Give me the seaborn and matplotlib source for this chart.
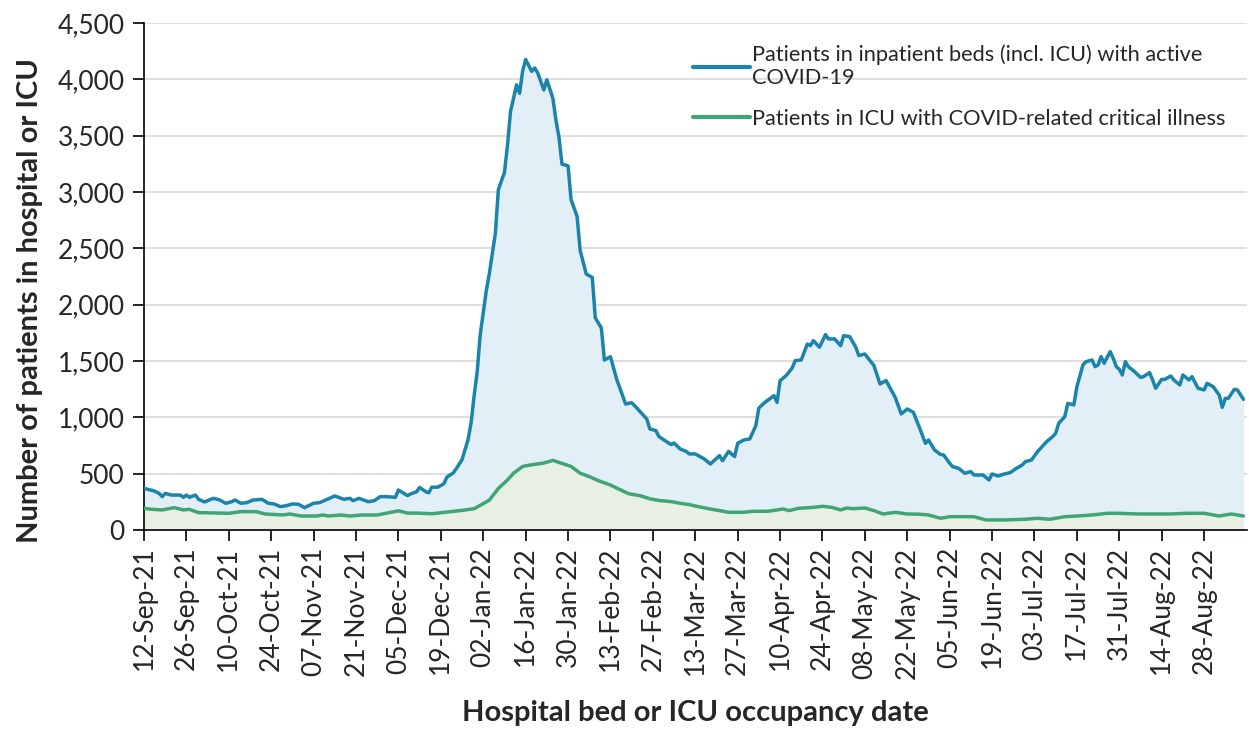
import pandas as pd
import matplotlib
matplotlib.use("Agg")
import matplotlib.pyplot as plt
import matplotlib.dates as mdates
from matplotlib.ticker import FuncFormatter
import seaborn as sns

# 数据：从图上读取（日期为距 2021-09-12 的天数）
start_date = "2021-09-12"
end_date = "2022-09-11"
last_tick = "2022-08-28"

inpatient_day = [
    0, 2, 3, 5, 6, 7, 9, 12, 13, 14, 15, 17, 18, 20, 22, 23, 25, 27, 29, 30,
    32, 34, 36, 39, 41, 43, 45, 47, 49, 51, 53, 56, 58, 60, 63, 66, 68, 69, 71, 74,
    76, 78, 80, 83, 84, 87, 88, 90, 91, 93, 94, 95, 97, 99, 100, 102, 103, 105, 107, 108,
    109, 110, 111, 113, 114, 116, 117, 119, 120, 121, 123, 124, 125, 126, 128, 129, 130, 132, 133, 135,
    136, 137, 138, 140, 141, 143, 144, 146, 148, 149, 151, 152, 154, 156, 158, 159, 161, 163, 165, 166,
    167, 169, 170, 172, 174, 175, 177, 179, 180, 182, 185, 187, 190, 191, 193, 195, 196, 198, 200, 202,
    203, 205, 208, 209, 210, 212, 214, 215, 217, 219, 220, 221, 223, 225, 226, 228, 230, 231, 233, 235,
    236, 238, 241, 243, 245, 248, 250, 252, 254, 256, 258, 259, 261, 263, 264, 266, 267, 269, 271, 273,
    274, 277, 279, 280, 282, 284, 286, 288, 289, 290, 291, 293, 295, 296, 298, 300, 301, 302, 304, 305,
    307, 308, 310, 311, 313, 314, 315, 316, 317, 319, 320, 321, 322, 323, 324, 325, 327, 329, 330, 332,
    333, 334, 336, 337, 339, 340, 342, 343, 345, 346, 348, 350, 351, 353, 355, 356, 357, 358, 360, 361,
    363,
]
inpatient_val = [
    370, 355, 350, 325, 296, 325, 310, 310, 290, 310, 290, 310, 272, 249, 272, 281, 266, 237, 251, 266,
    237, 243, 266, 272, 237, 231, 207, 216, 231, 228, 198, 237, 243, 266, 302, 272, 281, 260, 281, 251,
    260, 296, 296, 290, 355, 305, 320, 339, 378, 340, 330, 380, 380, 410, 470, 504, 540, 624, 803, 953,
    1193, 1403, 1733, 2123, 2273, 2633, 3023, 3173, 3413, 3713, 3951, 3876, 4071, 4176, 4071, 4101, 4056, 3906, 3996, 3831,
    3637, 3487, 3247, 3232, 2932, 2782, 2482, 2272, 2242, 1882, 1793, 1508, 1538, 1343, 1193, 1118, 1130, 1074, 1015, 985,
    897, 882, 829, 793, 758, 772, 719, 698, 675, 675, 630, 586, 660, 615, 698, 651, 769, 799, 808, 926,
    1083, 1133, 1192, 1133, 1326, 1370, 1438, 1503, 1509, 1651, 1636, 1681, 1622, 1734, 1696, 1696, 1636, 1725, 1716, 1622,
    1548, 1562, 1459, 1296, 1326, 1178, 1030, 1074, 1045, 910, 769, 799, 710, 670, 666, 592, 562, 547, 503, 518,
    488, 488, 444, 497, 479, 497, 509, 547, 562, 577, 607, 621, 695, 725, 784, 829, 858, 947, 1006, 1124,
    1110, 1272, 1465, 1494, 1509, 1450, 1465, 1539, 1480, 1583, 1524, 1450, 1426, 1376, 1494, 1450, 1406, 1355, 1361, 1397,
    1332, 1258, 1337, 1337, 1367, 1332, 1287, 1376, 1332, 1361, 1258, 1243, 1302, 1272, 1198, 1089, 1169, 1169, 1249, 1243,
    1160,
]

icu_day = [
    0, 2, 6, 10, 13, 15, 18, 28, 32, 37, 40, 46, 48, 52, 57, 59, 61, 65, 68, 72,
    77, 81, 84, 87, 90, 95, 100, 105, 109, 112, 114, 117, 120, 122, 125, 128, 132, 135, 137, 141,
    144, 147, 150, 154, 157, 160, 164, 167, 170, 174, 177, 180, 183, 187, 190, 193, 198, 201, 206, 211,
    213, 216, 221, 224, 227, 230, 232, 234, 238, 241, 244, 248, 252, 256, 259, 263, 266, 274, 278, 284,
    291, 295, 299, 304, 308, 313, 318, 322, 328, 333, 339, 344, 350, 355, 359, 363,
]
icu_val = [
    192, 185, 178, 198, 178, 183, 154, 148, 163, 163, 142, 133, 142, 124, 124, 133, 124, 133, 124, 133,
    133, 154, 170, 150, 150, 144, 159, 174, 189, 234, 264, 369, 444, 504, 564, 579, 594, 618, 600, 564,
    504, 474, 438, 399, 360, 322, 303, 277, 262, 252, 237, 225, 207, 186, 172, 157, 157, 166, 166, 186,
    172, 192, 201, 210, 201, 178, 195, 189, 195, 172, 142, 157, 142, 140, 133, 104, 118, 118, 89, 89,
    95, 104, 95, 118, 124, 133, 148, 148, 142, 142, 142, 148, 148, 124, 142, 124,
]

label_inpatient = "Patients in inpatient beds (incl. ICU) with active\nCOVID-19"
label_icu = "Patients in ICU with COVID-related critical illness"

t0 = pd.Timestamp(start_date)
df_in = pd.DataFrame({"date": t0 + pd.to_timedelta(inpatient_day, unit="D"),
                      "value": inpatient_val})
df_icu = pd.DataFrame({"date": t0 + pd.to_timedelta(icu_day, unit="D"),
                       "value": icu_val})

sns.set_theme(style="white")
plt.rcParams['font.family'] = ['Lato', 'DejaVu Sans']

fig = plt.figure(figsize=(12.49, 7.31), dpi=100)
ax = fig.add_axes([0.1153, 0.275, 0.8827, 0.6935])

blue = "#1a84aa"
green = "#40a574"

# 面积填充
ax.fill_between(df_in["date"], df_in["value"], color="#e3eff6", lw=0, zorder=1)
ax.fill_between(df_icu["date"], df_icu["value"], color="#e8f0e3", lw=0, zorder=2)

sns.lineplot(data=df_in, x="date", y="value", color=blue, lw=2.5, ax=ax,
             label=label_inpatient, zorder=4)
sns.lineplot(data=df_icu, x="date", y="value", color=green, lw=2.5, ax=ax,
             label=label_icu, zorder=3)

ax.set_xlim(t0, pd.Timestamp(end_date))
ax.set_ylim(0, 4500)
ax.set_yticks(range(0, 4501, 500))
ax.yaxis.set_major_formatter(FuncFormatter(lambda v, p: f"{int(v):,}"))
ax.set_xticks(pd.date_range(start_date, last_tick, freq="14D"))
ax.xaxis.set_major_formatter(mdates.DateFormatter("%d-%b-%y"))

ax.grid(axis="y", color="#d9d9d9", lw=1.2, zorder=0)
ax.set_axisbelow(True)
for s in ["top", "right"]:
    ax.spines[s].set_visible(False)
for s in ["left", "bottom"]:
    ax.spines[s].set_color("black")
    ax.spines[s].set_linewidth(1.2)

ax.tick_params(axis="y", which="major", direction="out", length=8, width=1.2,
               labelsize=19, pad=6, left=True, color="black")
ax.tick_params(axis="x", which="major", direction="out", length=8, width=1.2,
               labelsize=19, pad=4, bottom=True, color="black", labelrotation=90)

ax.set_xlabel("Hospital bed or ICU occupancy date", fontsize=21, fontweight="bold")
ax.set_ylabel("Number of patients in hospital or ICU", fontsize=21, fontweight="bold")
ax.xaxis.set_label_coords(0.5, -0.361)
ax.xaxis.label.set_va("center")
ax.yaxis.set_label_coords(-0.1034, 0.4536)
ax.yaxis.label.set_va("center")

leg = ax.legend(loc="upper left", bbox_to_anchor=(0.49, 0.975), frameon=False,
                fontsize=15.7, handlelength=2.6, handletextpad=0.1, labelspacing=0.95,
                borderaxespad=0)
for h in leg.get_lines():
    h.set_linewidth(3)

plt.savefig("out.png", dpi=100)
